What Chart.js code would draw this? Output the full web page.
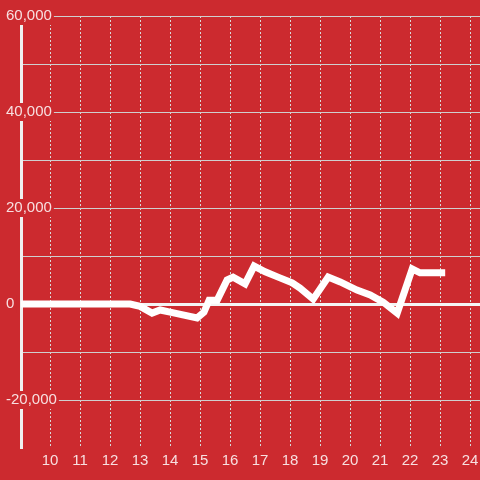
<!DOCTYPE html>
<html>
<head>
<meta charset="utf-8">
<script src="https://cdn.jsdelivr.net/npm/chart.js@4/dist/chart.umd.min.js"></script>
<style>
  html, body { margin: 0; padding: 0; background: #cc2a2f; }
  canvas { display: block; }
</style>
</head>
<body>
<canvas id="chart" width="480" height="480"></canvas>
<script>
// hours of the day and the running value at each point
const hours = [8.9, 12.67, 13.0, 13.4, 13.67, 14.0, 14.9, 15.13, 15.3, 15.57, 15.9, 16.1, 16.5, 16.8,
    17.17, 17.6, 18.07, 18.33, 18.77, 19.27, 19.67, 20.23, 20.67, 21.1, 21.57, 22.07, 22.33, 23.17];
const values = [0, 0, -500, -1900, -1250, -1700, -2900, -1700, 800, 800, 5000, 5600, 4200, 7900,
    6700, 5600, 4400, 3300, 1000, 5600, 4600, 2900, 1900, 400, -1900, 7300, 6500, 6500];

const xTicks = [10, 11, 12, 13, 14, 15, 16, 17, 18, 19, 20, 21, 22, 23, 24];
const yTicks = [-20000, -10000, 0, 10000, 20000, 30000, 40000, 50000, 60000];

const bg = '#cc2a2f';
const labelColor = 'rgba(255,255,255,0.85)';
const font = { family: '"Liberation Sans", Arial, sans-serif', size: 15 };

const ctx = document.getElementById('chart').getContext('2d');

new Chart(ctx, {
    type: 'line',
    data: {
        datasets: [{
            data: hours.map((h, i) => ({ x: h, y: values[i] })),
            borderColor: '#ffffff',
            borderWidth: 7,
            pointRadius: 0,
            tension: 0,
            fill: false
        }]
    },
    options: {
        responsive: false,
        animation: false,
        layout: { padding: { top: 16, right: 0, left: 0, bottom: 0 } },
        plugins: {
            legend: { display: false },
            tooltip: { enabled: false }
        },
        scales: {
            x: {
                type: 'linear',
                min: 9.03,
                max: 24.33,
                afterBuildTicks: (scale) => { scale.ticks = xTicks.map((v) => ({ value: v })); },
                afterFit: (scale) => {
                    scale.height = 32;
                    scale.paddingLeft = 0;
                    scale.paddingRight = 0;
                },
                grid: { color: '#d9d9d9', lineWidth: 1, drawTicks: false },
                border: { display: false, dash: [2, 2] },
                ticks: { color: labelColor, font: font, padding: 4, maxRotation: 0 }
            },
            y: {
                min: -30000,
                max: 60000,
                afterBuildTicks: (scale) => { scale.ticks = yTicks.map((v) => ({ value: v })); },
                afterFit: (scale) => { scale.width = 21; },
                grid: {
                    drawTicks: false,
                    color: (c) => c.tick && c.tick.value === 0 ? '#f4f4f4' : '#cfcfcf',
                    lineWidth: (c) => c.tick && c.tick.value === 0 ? 3 : 1
                },
                border: { display: true, color: '#f0f0f0', width: 3 },
                ticks: {
                    mirror: true,
                    padding: -15,
                    color: labelColor,
                    font: font,
                    callback: (v) => v % 20000 === 0 ? v.toLocaleString('en-US') : '',
                    showLabelBackdrop: (c) => c.tick && c.tick.value % 20000 === 0,
                    backdropColor: bg,
                    backdropPadding: { left: 2, right: 2, top: 0, bottom: 0 }
                }
            }
        }
    }
});
</script>
</body>
</html>
